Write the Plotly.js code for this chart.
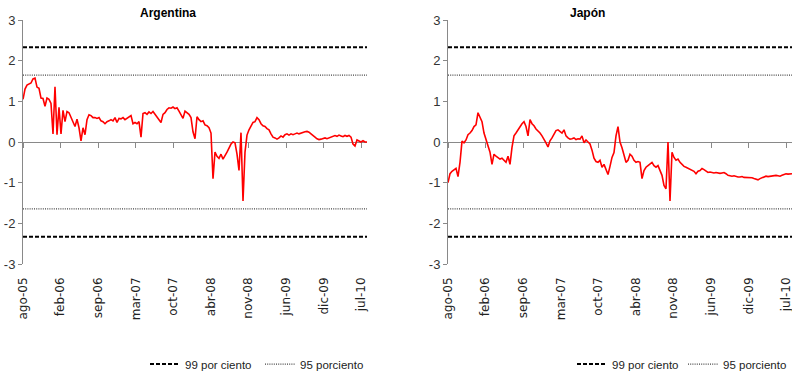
<!DOCTYPE html>
<html>
<head>
<meta charset="utf-8">
<script src="https://cdn.plot.ly/plotly-3.0.1.min.js"></script>
<style>html,body{margin:0;padding:0;background:#fff;overflow:hidden;}#chart{width:792px;height:379px;}</style>
</head>
<body>
<div id="chart"></div>
<script>
// Tick labels (spanish month-year) and their positions in sample units
const tickLabels = ['ago-05','feb-06','sep-06','mar-07','oct-07','abr-08','nov-08','jun-09','dic-09','jul-10'];
const tickPos = [0, 18.8, 37.6, 56.4, 75.2, 94, 112.8, 131.6, 150.4, 169.2];

// Argentina series (sampled)
const argentina = [
 1.05,1.3,1.4,1.43,1.45,1.55,1.57,1.35,1.32,1.08,
 1.07,0.88,1.08,1.05,0.95,0.2,1.36,0.18,0.85,0.2,
 0.78,0.5,0.75,0.72,0.62,0.5,0.38,0.56,0.35,0.03,
 0.35,0.18,0.55,0.67,0.65,0.6,0.6,0.58,0.6,0.52,
 0.5,0.45,0.5,0.52,0.55,0.52,0.6,0.48,0.58,0.57,
 0.6,0.55,0.58,0.62,0.65,0.45,0.48,0.45,0.5,0.12,
 0.7,0.72,0.68,0.74,0.7,0.75,0.68,0.6,0.55,0.48,
 0.68,0.72,0.8,0.84,0.83,0.86,0.82,0.84,0.76,0.65,
 0.58,0.76,0.72,0.68,0.6,0.25,0.08,0.62,0.55,0.5,
 0.52,0.42,0.4,0.35,0.22,-0.9,-0.25,-0.35,-0.4,-0.3,
 -0.42,-0.35,-0.25,-0.15,-0.05,0.0,-0.02,-0.3,-0.7,0.23,
 -1.45,-0.25,0.17,0.3,0.38,0.48,0.5,0.6,0.55,0.45,
 0.4,0.38,0.33,0.3,0.2,0.12,0.1,0.07,0.1,0.15,
 0.12,0.18,0.2,0.17,0.2,0.18,0.2,0.22,0.2,0.22,
 0.24,0.25,0.26,0.24,0.2,0.15,0.12,0.08,0.06,0.07,
 0.08,0.1,0.08,0.1,0.12,0.15,0.16,0.14,0.17,0.15,
 0.13,0.16,0.14,0.16,0.12,-0.05,-0.1,0.05,0.02,0.0,
 0.03,0.0,0.0
];

// Japón series (sampled)
const japon = [
 -1.0,-0.78,-0.72,-0.68,-0.65,-0.85,-0.5,0.02,-0.02,0.05,
 0.18,0.22,0.28,0.38,0.42,0.72,0.6,0.5,0.22,0.05,
 -0.1,-0.25,-0.55,-0.3,-0.35,-0.38,-0.42,-0.4,-0.45,-0.5,
 -0.35,-0.55,-0.13,0.15,0.22,0.3,0.35,0.45,0.5,0.38,
 0.15,0.55,0.45,0.4,0.32,0.28,0.22,0.15,0.08,-0.02,
 -0.12,0.03,0.1,0.18,0.28,0.3,0.25,0.22,0.3,0.15,
 0.1,0.07,0.08,0.1,0.06,0.08,0.07,0.15,-0.02,0.05,
 0.0,-0.05,-0.2,-0.4,-0.48,-0.5,-0.45,-0.62,-0.55,-0.7,
 -0.8,-0.6,-0.38,-0.26,0.15,0.38,0.0,-0.14,-0.3,-0.5,
 -0.45,-0.3,-0.35,-0.45,-0.5,-0.48,-0.5,-0.9,-0.7,-0.62,
 -0.58,-0.55,-0.5,-0.58,-0.62,-0.58,-0.7,-0.82,-1.07,-1.15,
 0.0,-1.45,-0.25,-0.38,-0.45,-0.42,-0.5,-0.55,-0.6,-0.62,
 -0.65,-0.67,-0.7,-0.72,-0.78,-0.72,-0.7,-0.65,-0.68,-0.72,
 -0.75,-0.74,-0.75,-0.76,-0.75,-0.76,-0.77,-0.76,-0.75,-0.78,
 -0.82,-0.83,-0.84,-0.83,-0.85,-0.86,-0.86,-0.85,-0.87,-0.87,
 -0.88,-0.87,-0.88,-0.9,-0.92,-0.93,-0.9,-0.88,-0.86,-0.84,
 -0.85,-0.84,-0.84,-0.83,-0.82,-0.83,-0.84,-0.82,-0.8,-0.78,
 -0.79,-0.78,-0.78
];

// Critical values
const crit99 = 2.33;
const crit95 = 1.645;
const yTicks = [-3,-2,-1,0,1,2,3];
const yTickText = ['-3','-2','-1','0','1','2','3'];
const legendNames = ['99 por ciento', '95 porciento'];

const xa = argentina.map((_, i) => i);
const xj = japon.map((_, i) => i);
const xMax = 172;

const FONT = '"Liberation Sans", Arial, sans-serif';
const AXC = '#898989';

function hline(xs, y, kind, xaxis, yaxis, legend, show) {
  const dashed = kind === 99;
  return {
    x: [xs[0], xs[xs.length - 1]], y: [y, y], type: 'scatter', mode: 'lines',
    xaxis: xaxis, yaxis: yaxis, legend: legend,
    name: dashed ? legendNames[0] : legendNames[1],
    legendgroup: legend + kind, showlegend: show,
    line: dashed ? {color: '#000', width: 2, dash: '4px,2px'} : {color: '#444', width: 1.2, dash: '1px,1.2px'},
    hoverinfo: 'skip'
  };
}

const traces = [
  {x: xa, y: argentina, type: 'scatter', mode: 'lines', xaxis: 'x', yaxis: 'y',
   line: {color: '#ff0000', width: 1.6}, showlegend: false},
  {x: xj, y: japon, type: 'scatter', mode: 'lines', xaxis: 'x2', yaxis: 'y2',
   line: {color: '#ff0000', width: 1.6}, showlegend: false},
  hline(xa, crit99, 99, 'x3', 'y', 'legend', true),
  hline(xa, -crit99, 99, 'x3', 'y', 'legend', false),
  hline(xa, crit95, 95, 'x3', 'y', 'legend2', true),
  hline(xa, -crit95, 95, 'x3', 'y', 'legend2', false),
  hline(xj, crit99, 99, 'x4', 'y2', 'legend3', true),
  hline(xj, -crit99, 99, 'x4', 'y2', 'legend3', false),
  hline(xj, crit95, 95, 'x4', 'y2', 'legend4', true),
  hline(xj, -crit95, 95, 'x4', 'y2', 'legend4', false)
];

const W = 792, H = 379;
const dom1 = [23 / W, 367 / W];
const dom2 = [448 / W, 1];
const yDom = [(H - 264) / H, (H - 20) / H];
const zeroPos = (yDom[0] + yDom[1]) / 2;

function zeroAxis(domain) {
  return {domain: domain, range: [0, xMax], anchor: 'free', position: zeroPos,
    showline: true, linecolor: AXC, linewidth: 1, ticks: 'outside', ticklen: 5,
    tickcolor: AXC, tickvals: tickPos, showticklabels: false, showgrid: false,
    zeroline: false, layer: 'below traces', fixedrange: true, automargin: false};
}
function labelAxis(over, anchor) {
  return {overlaying: over, anchor: anchor, range: [0, xMax], tickvals: tickPos,
    ticktext: tickLabels, tickangle: -90, showline: false, ticks: '', showgrid: false,
    zeroline: false, ticklabelstandoff: 10, ticklabeloverflow: 'allow',
    tickfont: {family: '"DejaVu Sans", Verdana, sans-serif', size: 12, color: '#222'},
    fixedrange: true, automargin: false};
}
function yAxis(anchor) {
  return {domain: yDom, anchor: anchor, range: [-3, 3], tickvals: yTicks, ticktext: yTickText,
    showline: true, linecolor: AXC, linewidth: 1, ticks: 'outside', ticklen: 4, tickcolor: AXC,
    showgrid: false, zeroline: false, tickfont: {family: FONT, size: 13, color: '#333'},
    fixedrange: true, automargin: false};
}

const legendFont = {family: FONT, size: 11.5, color: '#222'};
function leg(px, anchor) {
  return {orientation: 'h', x: px / W, xanchor: anchor, y: 0.001, yanchor: 'bottom',
    font: legendFont, bgcolor: 'rgba(0,0,0,0)', itemwidth: 30};
}

const layout = {
  width: W, height: H,
  margin: {l: 0, r: 0, t: 0, b: 0, pad: 0},
  paper_bgcolor: '#fff', plot_bgcolor: 'rgba(0,0,0,0)',
  showlegend: true,
  xaxis: zeroAxis(dom1),
  xaxis2: zeroAxis(dom2),
  xaxis3: labelAxis('x', 'y'),
  xaxis4: labelAxis('x2', 'y2'),
  yaxis: yAxis('x'),
  yaxis2: yAxis('x2'),
  legend: leg(145, 'left'),
  legend2: leg(260, 'left'),
  legend3: leg(572, 'left'),
  legend4: leg(W, 'right'),
  annotations: [
    {text: '<b>Argentina</b>', xref: 'paper', yref: 'paper', x: 168 / W, y: (H - 13) / H,
     xanchor: 'center', yanchor: 'middle', showarrow: false, font: {family: FONT, size: 12, color: '#000'}},
    {text: '<b>Japón</b>', xref: 'paper', yref: 'paper', x: 587 / W, y: (H - 13) / H,
     xanchor: 'center', yanchor: 'middle', showarrow: false, font: {family: FONT, size: 12, color: '#000'}}
  ]
};

Plotly.newPlot('chart', traces, layout, {displayModeBar: false, staticPlot: true});
</script>
</body>
</html>
